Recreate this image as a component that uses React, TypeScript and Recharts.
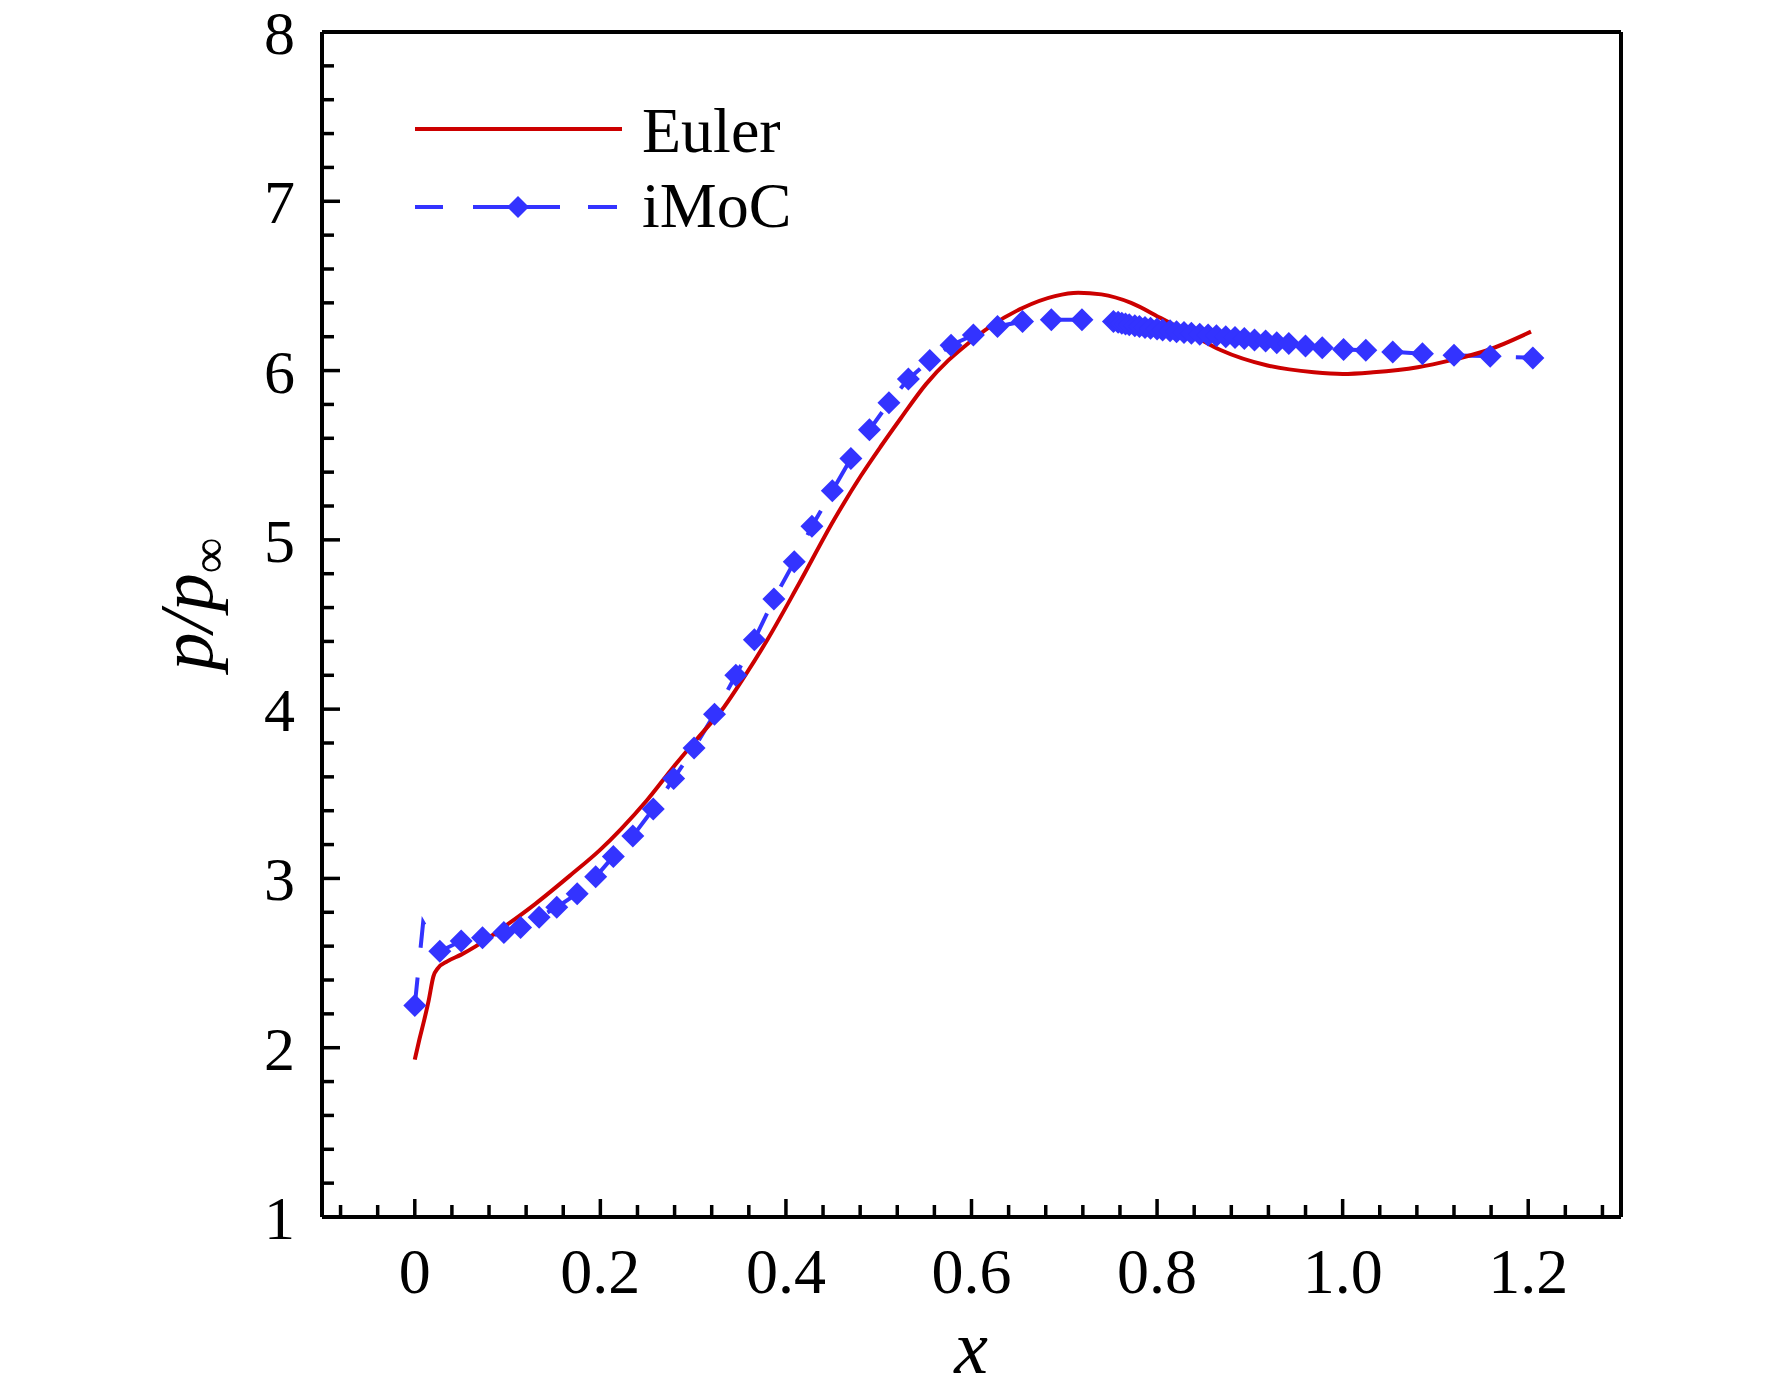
import React from 'react';
import { ComposedChart, Line, XAxis, YAxis, ReferenceLine, Legend } from 'recharts';

const FONT = '"Liberation Serif", "Times New Roman", serif';
const RED = '#CC0000';
const BLUE = '#3333FF';

// Euler solution
const eulerX = [
  0.0, 0.005, 0.01, 0.015, 0.02, 0.025, 0.035, 0.05, 0.066, 0.085, 0.103, 0.13, 0.168, 0.2, 0.222,
  0.25, 0.279, 0.305, 0.333, 0.355, 0.38, 0.413, 0.452, 0.481, 0.502, 0.524, 0.551, 0.575, 0.594,
  0.62, 0.655, 0.69, 0.715, 0.74, 0.772, 0.804, 0.835, 0.869, 0.919, 0.969, 1.0, 1.033, 1.081,
  1.116, 1.156, 1.203,
];
const eulerP = [
  1.93, 2.05, 2.16, 2.28, 2.42, 2.47, 2.51, 2.55, 2.6, 2.67, 2.74, 2.85, 3.02, 3.17, 3.29,
  3.46, 3.66, 3.83, 4.01, 4.19, 4.41, 4.73, 5.12, 5.38, 5.55, 5.72, 5.92, 6.06, 6.15,
  6.26, 6.37, 6.44, 6.46, 6.45, 6.4, 6.31, 6.22, 6.12, 6.03, 5.99, 5.98, 5.99, 6.02,
  6.06, 6.12, 6.23,
];

// iMoC solution
const imocX = [
  0.0, 0.009, 0.027, 0.05, 0.073, 0.096, 0.114, 0.134, 0.153, 0.175, 0.195, 0.214, 0.235, 0.257,
  0.279, 0.301, 0.323, 0.346, 0.366, 0.387, 0.409, 0.428, 0.45, 0.47, 0.49, 0.511, 0.532, 0.555,
  0.578, 0.602, 0.628, 0.655, 0.686, 0.719, 0.753, 0.758, 0.762, 0.766, 0.77, 0.776, 0.781, 0.787,
  0.793, 0.8, 0.806, 0.814, 0.821, 0.829, 0.837, 0.846, 0.855, 0.864, 0.874, 0.884, 0.894, 0.905,
  0.917, 0.929, 0.942, 0.96, 0.978, 1.001, 1.025, 1.054, 1.086, 1.12, 1.159, 1.205,
];
const imocP = [
  2.25, 2.74, 2.57, 2.63, 2.65, 2.68, 2.71, 2.77, 2.83, 2.91, 3.01, 3.13, 3.25, 3.41,
  3.59, 3.77, 3.97, 4.2, 4.41, 4.65, 4.87, 5.08, 5.29, 5.48, 5.65, 5.81, 5.95, 6.06,
  6.15, 6.21, 6.26, 6.29, 6.3, 6.3, 6.29, 6.285, 6.28, 6.275, 6.27, 6.265, 6.26, 6.255,
  6.25, 6.245, 6.24, 6.235, 6.23, 6.225, 6.22, 6.215, 6.21, 6.205, 6.2, 6.195, 6.19, 6.18,
  6.175, 6.165, 6.16, 6.145, 6.135, 6.125, 6.12, 6.11, 6.1, 6.09, 6.085, 6.075,
];
// points of the dashed iMoC line that carry no symbol
const imocBare = [1];

const xMajor = [0, 0.2, 0.4, 0.6, 0.8, 1.0, 1.2];
const xMajorLabels = ['0', '0.2', '0.4', '0.6', '0.8', '1.0', '1.2'];
const yMajor = [1, 2, 3, 4, 5, 6, 7, 8];
const yMajorLabels = ['1', '2', '3', '4', '5', '6', '7', '8'];

// minor ticks every 0.04 (x) and 0.2 (y)
const xTicks = Array.from({ length: 35 }, (_, i) => Math.round((-0.08 + i * 0.04) * 100) / 100);
const yTicks = Array.from({ length: 36 }, (_, i) => Math.round((1 + i * 0.2) * 10) / 10);

const eulerData = eulerX.map((x, i) => ({ x, p: eulerP[i] }));
const imocData = imocX.map((x, i) => ({ x, p: imocP[i], mark: !imocBare.includes(i) }));

const majorIndex = (list: number[], v: number) => list.findIndex((m) => Math.abs(m - v) < 1e-6);

function XTick(props: any) {
  const { x, y, payload } = props;
  const idx = majorIndex(xMajor, payload.value);
  const len = idx >= 0 ? 18 : 12;
  return (
    <g>
      <line x1={x} x2={x} y1={y} y2={y - len} stroke="#000" strokeWidth={3.5} />
      {idx >= 0 && (
        <text x={x} y={y + 76} textAnchor="middle" fontSize={64} fontFamily={FONT} fill="#000">
          {xMajorLabels[idx]}
        </text>
      )}
    </g>
  );
}

function YTick(props: any) {
  const { x, y, payload } = props;
  const idx = majorIndex(yMajor, payload.value);
  const len = idx >= 0 ? 18 : 12;
  return (
    <g>
      <line x1={x} x2={x + len} y1={y} y2={y} stroke="#000" strokeWidth={3.5} />
      {idx >= 0 && (
        <text x={x - 27} y={y + 22} textAnchor="end" fontSize={62} fontFamily={FONT} fill="#000">
          {yMajorLabels[idx]}
        </text>
      )}
    </g>
  );
}

function Diamond({ cx, cy, r, fill }: { cx: number; cy: number; r: number; fill: string }) {
  return <polygon points={`${cx},${cy - r} ${cx + r},${cy} ${cx},${cy + r} ${cx - r},${cy}`} fill={fill} />;
}

function renderImocDot(props: any) {
  const { cx, cy, index, payload } = props;
  if (!payload || !payload.mark || cx == null || cy == null) return <g key={`d-${index}`} />;
  return (
    <g key={`d-${index}`}>
      <Diamond cx={cx} cy={cy} r={11.5} fill={BLUE} />
    </g>
  );
}

function LegendBox() {
  return (
    <svg width={420} height={170} style={{ display: 'block', overflow: 'visible' }}>
      <line x1={15} x2={222} y1={49} y2={49} stroke={RED} strokeWidth={4} />
      <text x={242} y={72} fontSize={64} fontFamily={FONT} fill="#000">Euler</text>
      <line x1={15} x2={43} y1={127} y2={127} stroke={BLUE} strokeWidth={4} />
      <line x1={73} x2={160} y1={127} y2={127} stroke={BLUE} strokeWidth={4} />
      <line x1={188} x2={217} y1={127} y2={127} stroke={BLUE} strokeWidth={4} />
      <Diamond cx={118} cy={127} r={11} fill={BLUE} />
      <text x={242} y={147} fontSize={64} fontFamily={FONT} fill="#000">iMoC</text>
    </svg>
  );
}

export default function App() {
  return (
    <div style={{ position: 'absolute', left: 0, top: 0, width: 1772, height: 1395, background: '#fff' }}>
      <ComposedChart
        width={1772}
        height={1395}
        margin={{ top: 32, right: 151, left: 222, bottom: 78 }}
        style={{ fontFamily: FONT }}
      >
        <XAxis
          type="number"
          dataKey="x"
          domain={[-0.1, 1.3]}
          allowDataOverflow
          ticks={xTicks}
          interval={0}
          tick={XTick}
          tickLine={false}
          tickSize={0}
          tickMargin={0}
          height={100}
          axisLine={{ stroke: '#000', strokeWidth: 4 }}
        />
        <YAxis
          type="number"
          domain={[1, 8]}
          allowDataOverflow
          ticks={yTicks}
          interval={0}
          tick={YTick}
          tickLine={false}
          tickSize={0}
          tickMargin={0}
          width={100}
          axisLine={{ stroke: '#000', strokeWidth: 4 }}
        />
        <ReferenceLine y={8} stroke="#000" strokeWidth={4} />
        <ReferenceLine x={1.3} stroke="#000" strokeWidth={4} />
        <Line
          data={imocData}
          dataKey="p"
          type="linear"
          stroke={BLUE}
          strokeWidth={4}
          strokeDasharray="28 30"
          dot={renderImocDot}
          activeDot={false}
          legendType="none"
          isAnimationActive={false}
        />
        <Line
          data={eulerData}
          dataKey="p"
          type="monotoneX"
          stroke={RED}
          strokeWidth={4}
          dot={false}
          activeDot={false}
          legendType="none"
          isAnimationActive={false}
        />
        <Legend
          layout="horizontal"
          verticalAlign="middle"
          align="center"
          content={() => <LegendBox />}
          wrapperStyle={{ left: 400, top: 80, width: 420, height: 170 }}
        />
      </ComposedChart>
      <svg
        width={1772}
        height={1395}
        style={{ position: 'absolute', left: 0, top: 0, pointerEvents: 'none' }}
      >
        <text x={971} y={1373} textAnchor="middle" fontSize={76} fontStyle="italic" fontFamily={FONT} fill="#000">
          x
        </text>
        <text
          transform="translate(212, 604) rotate(-90)"
          textAnchor="middle"
          fontSize={76}
          fontStyle="italic"
          fontFamily={FONT}
          fill="#000"
        >
          p/p
          <tspan fontSize={50} fontStyle="normal" dy={14}>∞</tspan>
        </text>
      </svg>
    </div>
  );
}
